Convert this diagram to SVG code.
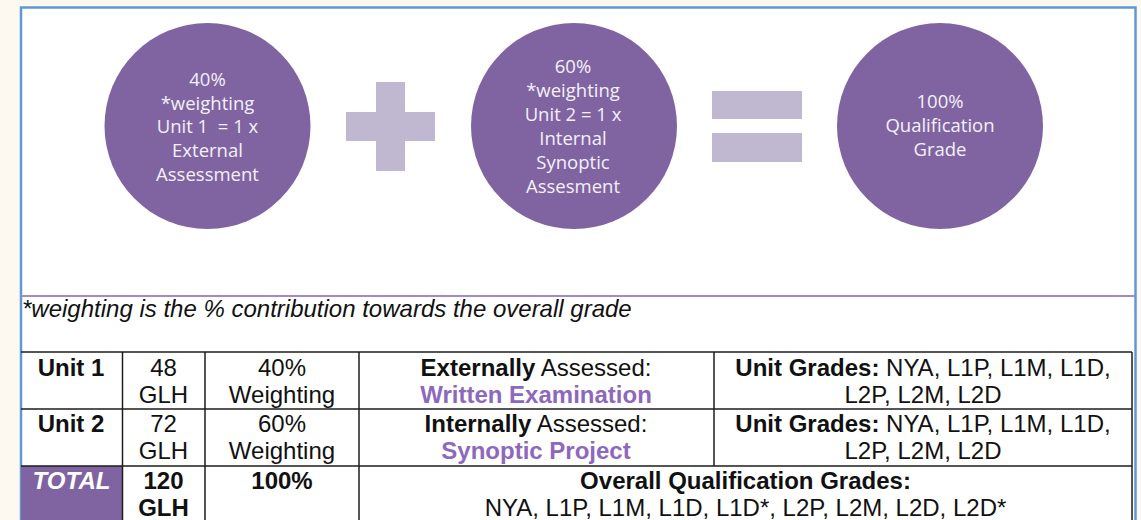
<svg xmlns="http://www.w3.org/2000/svg" width="1141" height="520" viewBox="0 0 1141 520">
<style>
.circ{fill:#8064a2}
.ct{font-family:"Open Sans","Noto Sans",sans-serif;font-size:18.5px;fill:#f4f0f8;text-anchor:middle}
.op{fill:#c0b7d1}
.tl{stroke:#1c1c1c;stroke-width:1.5;fill:none}
.tt{font-family:"Liberation Sans",Arial,sans-serif;font-size:24px;fill:#111;text-anchor:middle}
.b{font-weight:bold}
.pu{fill:#8d68bd;font-weight:bold}
</style>
<rect x="0" y="0" width="1141" height="520" fill="#fdf9f0"/>
<rect x="21" y="7.5" width="1114.5" height="520" fill="#ffffff" stroke="#5b9bd5" stroke-width="2.5"/>

<g id="node-unit1">
<circle class="circ" cx="207.5" cy="126" r="103"/>
<text class="ct" x="207.5" y="86">40%</text>
<text class="ct" x="207.5" y="109.7">*weighting</text>
<text class="ct" x="207.5" y="133.4" xml:space="preserve">Unit 1  = 1 x</text>
<text class="ct" x="207.5" y="157.1">External</text>
<text class="ct" x="207.5" y="180.8">Assessment</text>
</g>

<g id="node-plus">
<rect class="op" x="376" y="82" width="29" height="89"/>
<rect class="op" x="346" y="112" width="89" height="29"/>
</g>

<g id="node-unit2">
<circle class="circ" cx="574" cy="126" r="103"/>
<text class="ct" x="573" y="73">60%</text>
<text class="ct" x="573" y="97">*weighting</text>
<text class="ct" x="573" y="121">Unit 2 = 1 x</text>
<text class="ct" x="573" y="145">Internal</text>
<text class="ct" x="573" y="169">Synoptic</text>
<text class="ct" x="573" y="193">Assesment</text>
</g>

<g id="node-equals">
<rect class="op" x="712" y="91" width="90" height="28"/>
<rect class="op" x="712" y="133" width="90" height="29"/>
</g>

<g id="node-total">
<circle class="circ" cx="940" cy="126" r="103"/>
<text class="ct" x="940" y="108">100%</text>
<text class="ct" x="940" y="132">Qualification</text>
<text class="ct" x="940" y="156">Grade</text>
</g>

<g id="connectors">
<line x1="21" y1="296" x2="1135" y2="296" stroke="#a688c9" stroke-width="2"/>
</g>

<g id="footnote">
<text x="22" y="317" font-family="'Liberation Sans',Arial,sans-serif" font-size="24" font-style="italic" fill="#111">*weighting is the % contribution towards the overall grade</text>
</g>

<g id="table">
<rect x="21" y="466" width="101.5" height="54" fill="#8064a2"/>
<line class="tl" x1="21" y1="352" x2="1132" y2="352"/>
<line class="tl" x1="21" y1="409" x2="1132" y2="409"/>
<line class="tl" x1="21" y1="466" x2="1132" y2="466"/>
<line class="tl" x1="122.5" y1="352" x2="122.5" y2="520"/>
<line class="tl" x1="205" y1="352" x2="205" y2="520"/>
<line class="tl" x1="359" y1="352" x2="359" y2="520"/>
<line class="tl" x1="714" y1="352" x2="714" y2="466"/>
<line class="tl" x1="1132" y1="352" x2="1132" y2="520"/>

<text class="tt b" x="71" y="376">Unit 1</text>
<text class="tt" x="163.5" y="376">48</text>
<text class="tt" x="163.5" y="403">GLH</text>
<text class="tt" x="282" y="376">40%</text>
<text class="tt" x="282" y="403">Weighting</text>
<text class="tt" x="536" y="376"><tspan class="b">Externally</tspan> Assessed:</text>
<text class="tt pu" x="536" y="403">Written Examination</text>
<text class="tt" x="923" y="376"><tspan class="b">Unit Grades:</tspan> NYA, L1P, L1M, L1D,</text>
<text class="tt" x="923" y="403">L2P, L2M, L2D</text>

<text class="tt b" x="71" y="432">Unit 2</text>
<text class="tt" x="163.5" y="432">72</text>
<text class="tt" x="163.5" y="459">GLH</text>
<text class="tt" x="282" y="432">60%</text>
<text class="tt" x="282" y="459">Weighting</text>
<text class="tt" x="536" y="432"><tspan class="b">Internally</tspan> Assessed:</text>
<text class="tt pu" x="536" y="459">Synoptic Project</text>
<text class="tt" x="923" y="432"><tspan class="b">Unit Grades:</tspan> NYA, L1P, L1M, L1D,</text>
<text class="tt" x="923" y="459">L2P, L2M, L2D</text>

<text class="tt b" x="71.5" y="489" font-style="italic" style="fill:#ffffff">TOTAL</text>
<text class="tt b" x="163.5" y="489">120</text>
<text class="tt b" x="163.5" y="516">GLH</text>
<text class="tt b" x="282" y="489">100%</text>
<text class="tt b" x="745.5" y="489">Overall Qualification Grades:</text>
<text class="tt" x="745.5" y="516">NYA, L1P, L1M, L1D, L1D*, L2P, L2M, L2D, L2D*</text>
</g>
</svg>
